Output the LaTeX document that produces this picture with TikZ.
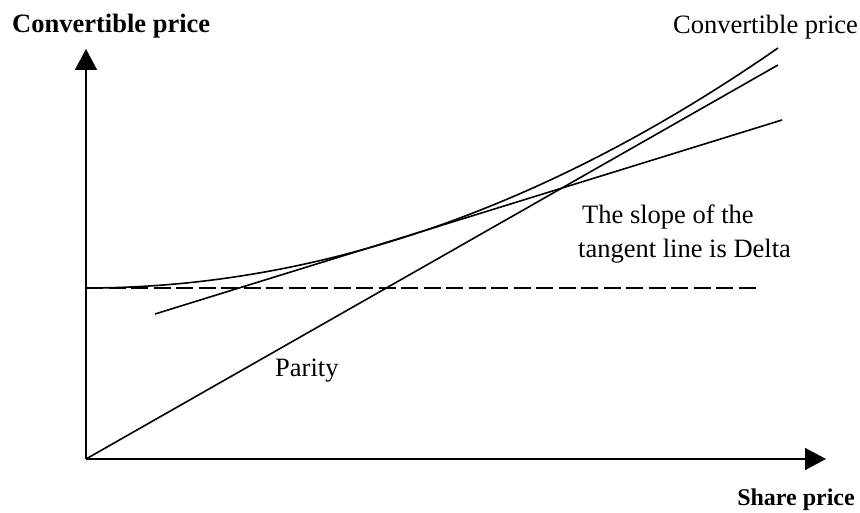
\documentclass[tikz,border=0pt]{standalone}
\usepackage{fontspec}
\setmainfont{Liberation Serif}
\usetikzlibrary{arrows.meta}
\begin{document}
\begin{tikzpicture}[x=1pt,y=-1pt,
  ln/.style={line width=1.6pt},
  axis/.style={line width=1.6pt,-{Triangle[width=22pt,length=21pt]}},
  lbl/.style={anchor=base west,inner sep=0pt,font=\fontsize{26.5}{33}\selectfont},
  blbl/.style={lbl,font=\fontsize{26.5}{33}\selectfont\bfseries}]
\useasboundingbox (0,0) rectangle (860,513);
\coordinate (O) at (86,459);
\coordinate (ytop) at (86,49);
\coordinate (xend) at (826,459);
\coordinate (c0) at (86,288);
\coordinate (c1) at (778,48);
\coordinate (p1) at (778,65);
\coordinate (t0) at (155,314);
\coordinate (t1) at (782,120);
\coordinate (d1) at (758,288);
\draw[axis] (O) -- (ytop);
\draw[axis] (O) -- (xend);
\draw[ln] (c0) .. controls (360,288) and (595,175) .. (c1);
\draw[ln] (O) -- (p1);
\draw[ln] (t0) -- (t1);
\draw[ln,dash pattern=on 17pt off 5.5pt] (c0) -- (d1);
\node[blbl] (ylab) at (12,33) {Convertible price};
\node[lbl] (clab) at (673,34) {Convertible price};
\node[lbl] (s1) at (582,224) {The slope of the};
\node[lbl] (s2) at (578,258) {tangent line is Delta};
\node[lbl] (par) at (275,376) {Parity};
\node[blbl,anchor=base east,font=\fontsize{24}{30}\selectfont\bfseries] (xlab) at (855,505) {Share price};
\end{tikzpicture}
\end{document}
